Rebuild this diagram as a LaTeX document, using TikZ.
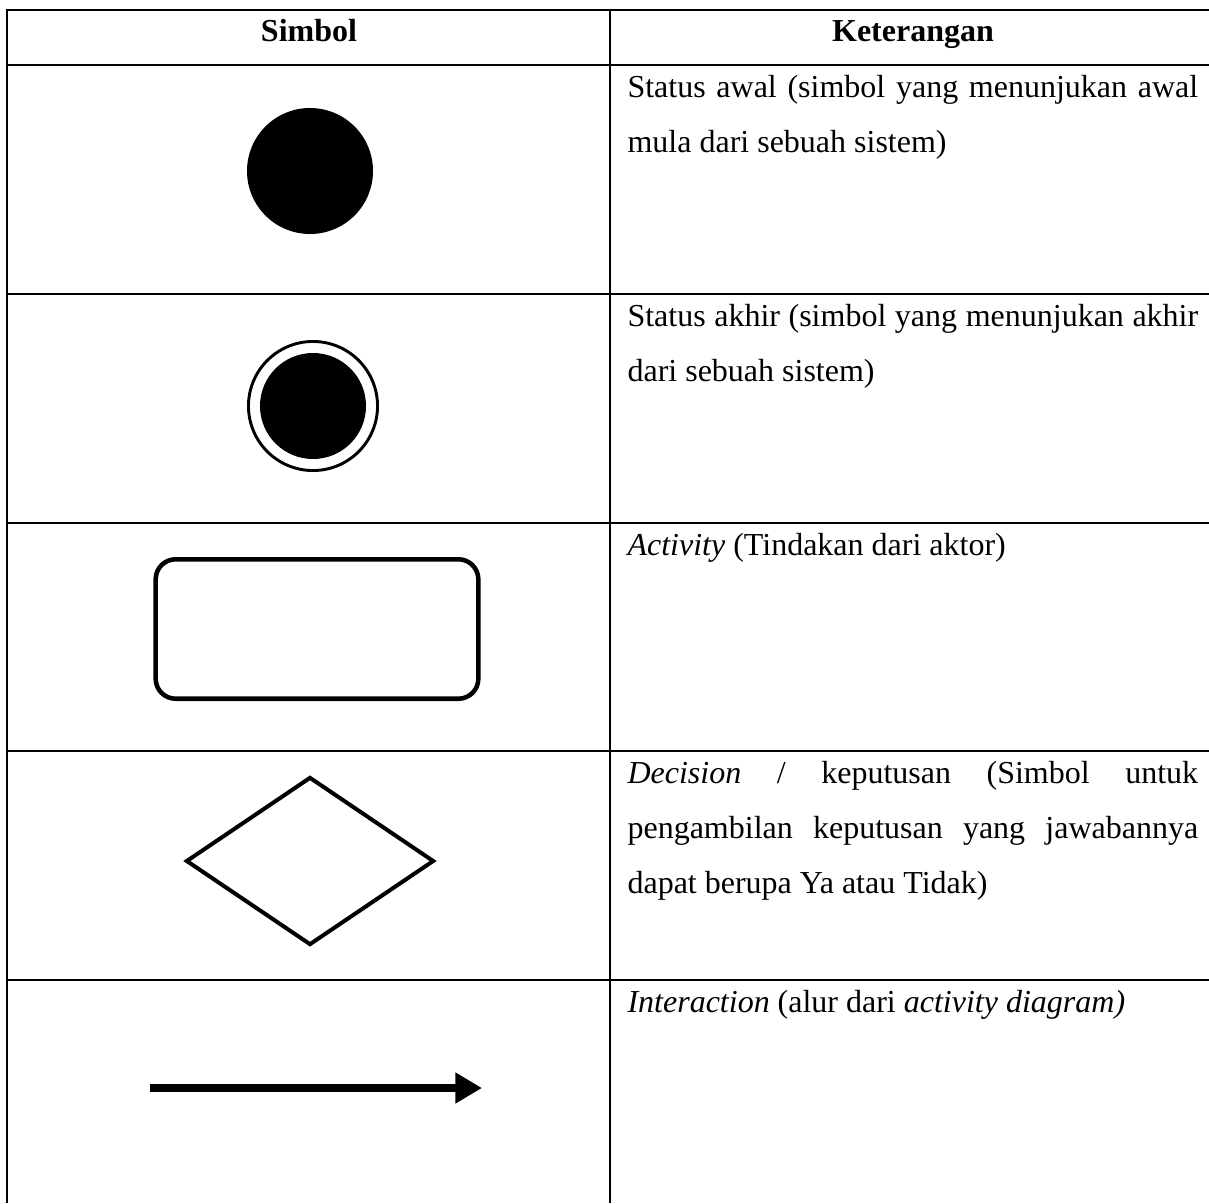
\documentclass[tikz,border=0pt]{standalone}
\usepackage{fontspec}
\setmainfont{Liberation Serif}
\usetikzlibrary{arrows.meta, shapes.geometric}
\newcommand{\fullline}[1]{\makebox[214pt][s]{#1}}
\newcommand{\firstline}{\rule{0pt}{9pt}}
\tikzset{
  grid line/.style={line width=0.5pt, black},
  head text/.style={font=\fontsize{12}{14}\selectfont\bfseries, anchor=base},
  desc text/.style={font=\fontsize{12}{20.6}\selectfont, align=left, anchor=north west, inner sep=0pt},
  dot sym/.style={circle, fill=black, inner sep=0pt},
}

\begin{document}
\begin{tikzpicture}[x=0.375pt, y=-0.375pt]
\useasboundingbox (0,0) rectangle (1209,1203);

% ---- table grid ----
\draw[grid line] (7,1203) -- (7,10) -- (1209,10);
\draw[grid line] (610,10) -- (610,1203);
\foreach \y in {65,294,523,751,980}{
  \draw[grid line] (7,\y) -- (1209,\y);
}

% ---- header ----
\node[head text] (hsym)  at (309,42) {Simbol};
\node[head text] (hdesc) at (913,42) {Keterangan};

% ---- status awal ----
\node[dot sym, minimum size=47.25pt] (initsym) at (310,171) {};
\node[desc text] (initdesc) at (627,73)
  {\firstline\fullline{Status awal (simbol yang menunjukan awal}\\mula dari sebuah sistem)};

% ---- status akhir ----
\node[circle, draw, line width=1.1pt, minimum size=48.4pt, inner sep=0pt] (finalsym) at (313,406) {};
\node[dot sym, minimum size=39.75pt] (finalcore) at (finalsym) {};
\node[desc text] (finaldesc) at (627,302)
  {\firstline\fullline{Status akhir (simbol yang menunjukan akhir}\\dari sebuah sistem)};

% ---- activity ----
\node[draw, rounded corners=7.5pt, line width=1.7pt, minimum width=121pt, minimum height=52.3pt,
      inner sep=0pt] (actsym) at (317,629) {};
\node[desc text] (actdesc) at (627,531)
  {\firstline\textit{Activity} (Tindakan dari aktor)};

% ---- decision ----
\node[diamond, draw, line width=1.5pt, minimum width=93pt, minimum height=63pt, inner sep=0pt]
  (decsym) at (310,861) {};
\node[desc text] (decdesc) at (627,759)
  {\firstline\fullline{\textit{Decision} / keputusan (Simbol untuk}\\
   \fullline{pengambilan keputusan yang jawabannya}\\
   dapat berupa Ya atau Tidak)};

% ---- interaction ----
\coordinate (flowtail) at (150,1088);
\coordinate (flowhead) at (482,1088);
\draw[line width=3pt, -{Triangle[length=10pt, width=11pt]}] (flowtail) -- (flowhead);
\node[desc text] (flowdesc) at (627,988)
  {\firstline\textit{Interaction} (alur dari \textit{activity diagram)}};
\end{tikzpicture}
\end{document}
